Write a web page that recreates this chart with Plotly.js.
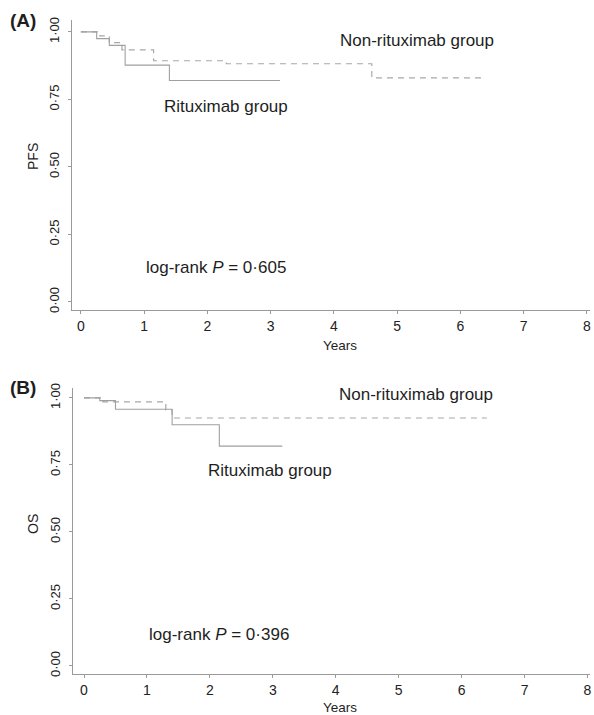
<!DOCTYPE html>
<html>
<head>
<meta charset="utf-8">
<script src="https://cdn.plot.ly/plotly-3.0.1.min.js"></script>
<style>html,body{margin:0;padding:0;background:#fff;}#chart{width:594px;height:715px;}</style>
</head>
<body>
<div id="chart"></div>
<script>
// ---- data ----
const xTicks = [0, 1, 2, 3, 4, 5, 6, 7, 8];
const yTickVals = [0, 0.25, 0.5, 0.75, 1];
const yTickText = ['0·00', '0·25', '0·50', '0·75', '1·00'];

// Panel A: PFS
const pfsNonRitTime = [0, 0.3, 0.45, 0.65, 1.15, 2.3, 4.6, 6.4];
const pfsNonRitSurv = [1.0, 0.985, 0.96, 0.933, 0.893, 0.882, 0.83, 0.83];
const pfsRitTime = [0, 0.25, 0.45, 0.7, 1.4, 3.15];
const pfsRitSurv = [1.0, 0.975, 0.95, 0.877, 0.82, 0.82];
const pfsPValue = '0·605';

// Panel B: OS
const osNonRitTime = [0, 0.3, 1.3, 1.4, 6.4];
const osNonRitSurv = [1.0, 0.985, 0.955, 0.925, 0.925];
const osRitTime = [0, 0.25, 0.5, 1.4, 2.15, 3.15];
const osRitSurv = [1.0, 0.99, 0.958, 0.90, 0.82, 0.82];
const osPValue = '0·396';

const groupNames = ['Non-rituximab group', 'Rituximab group'];

// ---- layout helpers (pixel -> paper) ----
const W = 594, H = 715;
const px = x => x / W;
const py = y => 1 - y / H;
const FONT = 'Liberation Sans, Arial, sans-serif';
const lineCol = '#9a9a9a';

function kmTrace(t, s, dash, xa, ya, col, w) {
  return {
    x: t, y: s, xaxis: xa, yaxis: ya, type: 'scatter', mode: 'lines',
    line: {shape: 'hv', color: col, width: w, dash: dash},
    hoverinfo: 'skip', showlegend: false
  };
}

const traces = [
  kmTrace(pfsNonRitTime, pfsNonRitSurv, '6px,5px', 'x', 'y', '#a8a8a8', 1.2),
  kmTrace(pfsRitTime, pfsRitSurv, 'solid', 'x', 'y', '#a0a0a0', 1.1),
  kmTrace(osNonRitTime, osNonRitSurv, '6px,5px', 'x2', 'y2', '#a8a8a8', 1.2),
  kmTrace(osRitTime, osRitSurv, 'solid', 'x2', 'y2', '#a0a0a0', 1.1)
];

function xAxis(domain, range, anchor) {
  return {
    domain: domain, range: range, anchor: anchor,
    tickmode: 'array', tickvals: xTicks, ticktext: xTicks.map(String),
    showline: true, linecolor: lineCol, linewidth: 1,
    ticks: 'outside', ticklen: 3, tickcolor: lineCol,
    showgrid: false, zeroline: false,
    tickfont: {family: FONT, size: 14, color: '#222'}
  };
}
function yAxis(domain, range, anchor) {
  return {
    domain: domain, range: range, anchor: anchor,
    tickmode: 'array', tickvals: yTickVals, ticktext: yTickText,
    tickangle: -90, ticklabelstandoff: 4,
    showline: true, linecolor: lineCol, linewidth: 1,
    ticks: 'outside', ticklen: 3, tickcolor: lineCol,
    showgrid: false, zeroline: false,
    tickfont: {family: FONT, size: 13, color: '#222'}
  };
}

const txt = (text, x, y, xref, yref, size, extra) => Object.assign({
  text: text, x: x, y: y, xref: xref, yref: yref, showarrow: false,
  xanchor: 'center', yanchor: 'middle',
  font: {family: FONT, size: size, color: '#1e1e1e'}
}, extra || {});

const annotations = [
  // panel labels
  txt('<b>(A)</b>', px(23), py(20), 'paper', 'paper', 19),
  txt('<b>(B)</b>', px(23), py(387), 'paper', 'paper', 19),
  // axis titles
  txt('PFS', px(33), py(157), 'paper', 'paper', 14, {textangle: -90}),
  txt('OS', px(33), py(524), 'paper', 'paper', 14, {textangle: -90}),
  txt('Years', px(340), py(345), 'paper', 'paper', 13.5),
  txt('Years', px(340), py(707), 'paper', 'paper', 13.5, {yanchor: 'middle'}),
  // panel A texts
  txt(groupNames[0], 5.32, 0.967, 'x', 'y', 17),
  txt(groupNames[1], 2.29, 0.722, 'x', 'y', 17),
  txt('log-rank <i>P</i> = ' + pfsPValue, 2.14, 0.126, 'x', 'y', 17),
  // panel B texts
  txt(groupNames[0], 5.28, 1.011, 'x2', 'y2', 17),
  txt(groupNames[1], 2.96, 0.731, 'x2', 'y2', 17),
  txt('log-rank <i>P</i> = ' + osPValue, 2.15, 0.116, 'x2', 'y2', 17)
];

const layout = {
  width: W, height: H,
  margin: {l: 0, r: 0, t: 0, b: 0},
  paper_bgcolor: '#fff', plot_bgcolor: '#fff',
  font: {family: FONT, color: '#222'},
  xaxis: xAxis([px(72), px(590)], [-0.14, 8.05], 'y'),
  yaxis: yAxis([py(310), py(20)], [-0.03, 1.044], 'x'),
  xaxis2: xAxis([px(73), px(590)], [-0.175, 8.04], 'y2'),
  yaxis2: yAxis([py(674), py(388)], [-0.030, 1.037], 'x2'),
  annotations: annotations,
  showlegend: false
};

Plotly.newPlot('chart', traces, layout, {staticPlot: true, displayModeBar: false});
</script>
</body>
</html>
